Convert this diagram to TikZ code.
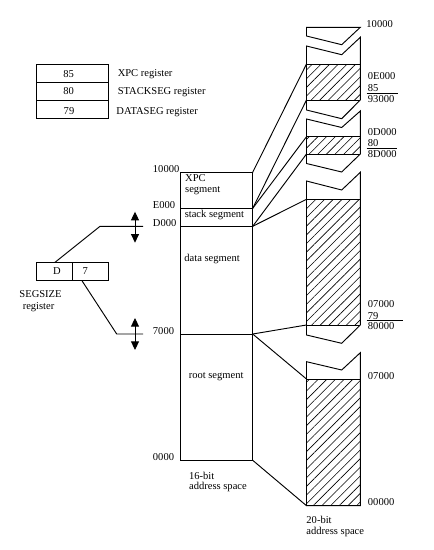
\documentclass[tikz,border=0pt]{standalone}
\usepackage{fontspec}
\setmainfont{Liberation Serif}
\usetikzlibrary{arrows.meta,patterns.meta}
\begin{document}
\begin{tikzpicture}[x=0.75pt,y=-0.75pt,line width=0.7pt,
  txt/.style={inner sep=0pt,font=\fontsize{7.9}{9.5}\selectfont},
  lbl/.style={txt,anchor=west},
  hatch/.style={pattern={Lines[angle=45,distance=4.6pt,line width=0.45pt]}},
  reg/.style={draw,minimum width=54pt,minimum height=13.5pt,inner sep=0pt},
  cell/.style={draw,minimum width=27pt,minimum height=13.5pt,inner sep=0pt},
  dblarr/.style={{Triangle[length=6.5pt,width=6pt]}-{Triangle[length=6.5pt,width=6pt]}}]
\useasboundingbox (0,0) rectangle (433,550);
\def\L{306.5}\def\M{341.7}\def\R{360.3}

% register table
\node[reg] (xpcreg) at (72,73.2) {};
\node[reg] (stkreg) at (72,91.3) {};
\node[reg] (datreg) at (72,109.2) {};
\node[txt] (v85) at (68.7,74.3) {85};
\node[txt] (v80) at (68.7,91.5) {80};
\node[txt] (v79) at (69,111) {79};
\node[lbl] (nxpc) at (117.3,74.3) {XPC register};
\node[lbl] (nstk) at (117.3,91.7) {STACKSEG register};
\node[lbl] (ndat) at (116,112) {DATASEG register};

% SEGSIZE register
\node[cell] (sd) at (54.2,271.3) {};
\node[cell] (s7) at (90.3,271.3) {};
\node[txt] (tD) at (57,271.5) {D};
\node[txt] (t7) at (85.3,271.5) {7};
\node[lbl] (nseg) at (19,294) {SEGSIZE};
\node[lbl] (nreg) at (22.3,307) {register};

\coordinate (sdt) at (55,262.3);
\coordinate (kD) at (100,226.3);
\coordinate (eD) at (143,226.3);
\coordinate (s7b) at (81.7,280.3);
\coordinate (k7) at (116.7,334);
\coordinate (e7) at (143,334);
\draw (sdt) -- (kD) -- (eD);
\draw (s7b) -- (k7) -- (e7);
\coordinate (aDt) at (135,211.7);
\coordinate (aDb) at (135,242.7);
\coordinate (a7t) at (135,318);
\coordinate (a7b) at (135,350);
\draw[dblarr] (aDt) -- (aDb);
\draw[dblarr] (a7t) -- (a7b);

% 16-bit address space
\draw (180.7,172.3) rectangle (252.7,460.3);
\draw (180.7,208.3) -- (252.7,208.3);
\draw (180.7,226.3) -- (252.7,226.3);
\draw (180.7,334) -- (252.7,334);
\coordinate (b10) at (252.7,172.3);
\coordinate (bE) at (252.7,208.3);
\coordinate (bD) at (252.7,226.3);
\coordinate (b7) at (252.7,334);
\coordinate (b0) at (252.7,460.3);

\node[lbl] (l10) at (152.5,169) {10000};
\node[lbl] (lE) at (152.5,205.2) {E000};
\node[lbl] (lD) at (152.5,223) {D000};
\node[lbl] (l7) at (152.5,331) {7000};
\node[lbl] (l0) at (152.5,457) {0000};

\node[lbl] (sx1) at (184.7,178.3) {XPC};
\node[lbl] (sx2) at (184.7,190.7) {segment};
\node[lbl] (ss) at (184.3,215) {stack segment};
\node[lbl] (sds) at (184,259) {data segment};
\node[lbl] (srs) at (188.3,376.7) {root segment};
\node[lbl] (a16a) at (188.7,475.7) {16-bit};
\node[lbl] (a16b) at (188.7,487) {address space};

% 20-bit address space
\fill[hatch] (\L,64) rectangle (\R,100);
\fill[hatch] (\L,136.7) rectangle (\R,154);
\fill[hatch] (\L,199.3) rectangle (\R,325);
\fill[hatch] (\L,379) rectangle (\R,505.7);

\draw (\R,27.3) -- (\L,27.3) -- (\L,36) -- (\M,44.7) -- cycle;
\draw (\L,46) -- (\M,54.7) -- (\R,37.3) -- (\R,100) -- (\M,118.7) -- (\L,110) -- cycle;
\draw (\L,119) -- (\M,127.5) -- (\R,111) -- (\R,154) -- (\M,172) -- (\L,163.5) -- cycle;
\draw (\L,181) -- (\M,190) -- (\R,172.3) -- (\R,325) -- (\M,343.3) -- (\L,335) -- cycle;
\draw (\L,361.7) -- (\M,370) -- (\R,352.7) -- (\R,505.7) -- (\L,505.7) -- cycle;

\coordinate (h2t) at (\L,64);
\coordinate (h2b) at (\L,100);
\coordinate (h3t) at (\L,136.7);
\coordinate (h3b) at (\L,154);
\coordinate (h4t) at (\L,199.3);
\coordinate (h4b) at (\L,325);
\coordinate (h5t) at (\L,379);
\coordinate (h5b) at (\L,505.7);
\draw (h2t) -- (\R,64);
\draw (h2b) -- (\R,100);
\draw (h3t) -- (\R,136.7);
\draw (h3b) -- (\R,154);
\draw (h4t) -- (\R,199.3);
\draw (h4b) -- (\R,325);
\draw (h5t) -- (\R,379);

\draw (b10) -- (h2t);
\draw (bE) -- (h2b);
\draw (bE) -- (h3t);
\draw (bD) -- (h3b);
\draw (bD) -- (h4t);
\draw (b7) -- (h4b);
\draw (b7) -- (h5t);
\draw (b0) -- (h5b);

\node[lbl] (r10) at (366,24.3) {10000};
\node[lbl] (rE) at (367.5,76.3) {0E000};
\node[lbl] (r85) at (367.5,87.7) {85};
\node[lbl] (r93) at (367.5,99) {93000};
\node[lbl] (rD) at (367.5,132.3) {0D000};
\node[lbl] (r80) at (367.5,143.3) {80};
\node[lbl] (r8D) at (367.5,154.5) {8D000};
\node[lbl] (r07a) at (367.5,304.3) {07000};
\node[lbl] (r79) at (367.5,315.7) {79};
\node[lbl] (r80k) at (367.5,326.5) {80000};
\node[lbl] (r07b) at (367.5,375.7) {07000};
\node[lbl] (r00) at (367.5,502.3) {00000};
\coordinate (u1a) at (366.7,93.3); \coordinate (u1b) at (398.3,93.3);
\coordinate (u2a) at (366.7,148.5); \coordinate (u2b) at (397,148.5);
\coordinate (u3a) at (366.7,320.3); \coordinate (u3b) at (402.7,320.3);
\draw[line width=0.6pt] (u1a) -- (u1b);
\draw[line width=0.6pt] (u2a) -- (u2b);
\draw[line width=0.6pt] (u3a) -- (u3b);
\node[lbl] (a20a) at (306,520.3) {20-bit};
\node[lbl] (a20b) at (306,532) {address space};
\end{tikzpicture}
\end{document}
